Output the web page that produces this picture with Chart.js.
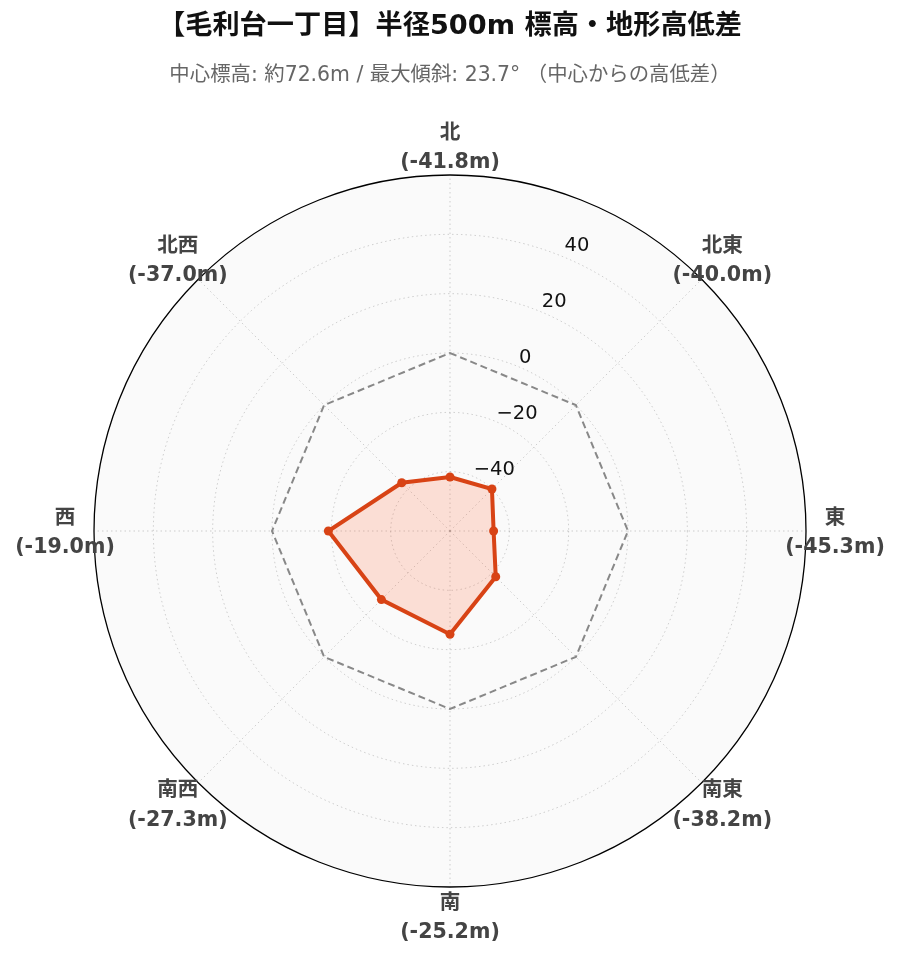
<!DOCTYPE html>
<html>
<head>
<meta charset="utf-8">
<script src="https://cdn.jsdelivr.net/npm/chart.js@4"></script>
<style>
	body { margin: 0; background: #ffffff; }
	#wrap { width: 899px; height: 962px; }
</style>
</head>
<body>
<div id="wrap"><canvas id="terrainChart"></canvas></div>
<script>
// 方位と高低差 (中心標高からの差, m)
var directions = ['北', '北東', '東', '南東', '南', '南西', '西', '北西'];
var elevDiff = [-41.8, -40.0, -45.3, -38.2, -25.2, -27.3, -19.0, -37.0];
var baseLine = [0, 0, 0, 0, 0, 0, 0, 0];
var radialTicks = [-40, -20, 0, 20, 40];

var FONT = '"DejaVu Sans", "Noto Sans CJK JP", sans-serif';

var polarDecor = {
	id: 'polarDecor',
	beforeDraw: function(chart) {
		var r = chart.scales.r;
		var ctx = chart.ctx;
		ctx.save();
		ctx.beginPath();
		ctx.arc(r.xCenter, r.yCenter, r.drawingArea, 0, Math.PI * 2);
		ctx.fillStyle = '#fafafa';
		ctx.fill();
		ctx.restore();
	},
	afterDraw: function(chart) {
		var r = chart.scales.r;
		var ctx = chart.ctx;
		ctx.save();

		// 目盛りラベル (22.5度の位置)
		ctx.font = '19.5px ' + FONT;
		ctx.fillStyle = '#111111';
		ctx.textAlign = 'left';
		ctx.textBaseline = 'alphabetic';
		radialTicks.forEach(function(v) {
			var d = r.getDistanceFromCenterForValue(v);
			var p = r.getPointPosition(0.5, d);
			var txt = v < 0 ? '\u2212' + Math.abs(v) : String(v);
			ctx.fillText(txt, p.x + 1, p.y - d * 0.02);
		});

		// 方位ラベル
		ctx.fillStyle = '#444444';
		ctx.textAlign = 'center';
		ctx.textBaseline = 'middle';
		ctx.font = 'bold 20.6px ' + FONT;
		directions.forEach(function(name, i) {
			var p = r.getPointPosition(i, r.drawingArea + 29);
			ctx.fillText(name, p.x, p.y - 12.5);
			ctx.fillText('(' + elevDiff[i].toFixed(1) + 'm)', p.x, p.y + 17);
		});
		ctx.restore();
	}
};

var ctx = document.getElementById('terrainChart').getContext('2d');
var terrainChart = new Chart(ctx, {
	type: 'radar',
	data: {
		labels: directions,
		datasets: [{
			label: '高低差',
			data: elevDiff,
			borderColor: '#d84315',
			backgroundColor: 'rgba(255, 112, 67, 0.2)',
			borderWidth: 4,
			pointRadius: 4.5,
			pointBackgroundColor: '#d84315',
			pointBorderWidth: 0,
			fill: 'start',
			tension: 0
		}, {
			label: '中心標高',
			data: baseLine,
			borderColor: '#888888',
			borderWidth: 2,
			borderDash: [7, 4],
			pointRadius: 0,
			fill: false
		}]
	},
	options: {
		responsive: true,
		maintainAspectRatio: false,
		animation: false,
		layout: {
			padding: { left: 93, right: 92, top: 0, bottom: 74 }
		},
		scales: {
			r: {
				min: -60,
				max: 60,
				ticks: {
					stepSize: 20,
					display: false
				},
				pointLabels: {
					display: false
				},
				grid: {
					circular: true,
					color: function(c) {
						return c.tick && c.tick.value === 60 ? '#000000' : 'rgba(0, 0, 0, 0.18)';
					},
					lineWidth: function(c) {
						return c.tick && c.tick.value === 60 ? 1.3 : 1;
					}
				},
				border: {
					dash: function(c) {
						return c.tick && c.tick.value === 60 ? [] : [1.5, 3];
					}
				},
				angleLines: {
					color: 'rgba(0, 0, 0, 0.18)',
					borderDash: [1.5, 3]
				}
			}
		},
		plugins: {
			legend: {
				display: false
			},
			tooltip: {
				enabled: false
			},
			title: {
				display: true,
				text: '【毛利台一丁目】半径500m 標高・地形高低差',
				color: '#111111',
				font: { family: FONT, size: 27.2, weight: 'bold', lineHeight: 1.2 },
				padding: { top: 11, bottom: 0 }
			},
			subtitle: {
				display: true,
				text: '中心標高: 約72.6m / 最大傾斜: 23.7° （中心からの高低差）',
				color: '#666666',
				font: { family: FONT, size: 20.4, lineHeight: 1.2 },
				padding: { top: 20, bottom: 86 }
			}
		}
	},
	plugins: [polarDecor]
});
</script>
</body>
</html>
